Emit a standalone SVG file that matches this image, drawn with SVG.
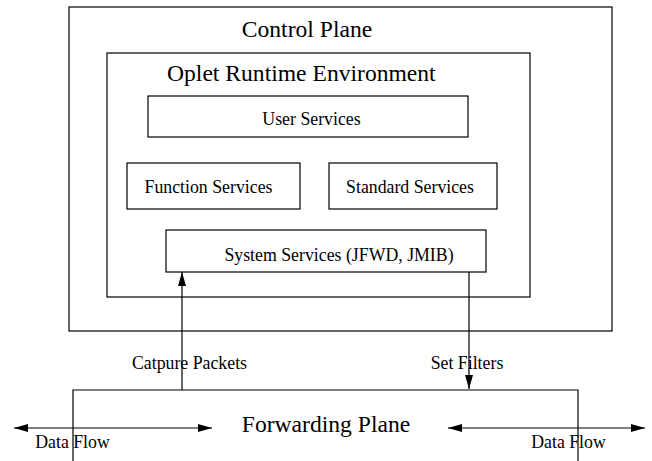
<svg xmlns="http://www.w3.org/2000/svg" width="652" height="461" viewBox="0 0 652 461">
<defs>
<marker id="ah" markerWidth="14" markerHeight="8" refX="14" refY="4" orient="auto-start-reverse" markerUnits="userSpaceOnUse">
<path d="M0,0 L14,4 L0,8 z" fill="#000"/>
</marker>
</defs>
<style>
.box{fill:none;stroke:#000;stroke-width:1.2}
.ln{fill:none;stroke:#000;stroke-width:1.2}
text{font-family:"Liberation Serif","Times New Roman",serif;fill:#000}
.big{font-size:23.6px}
.sm{font-size:17.8px}
</style>
<rect width="652" height="461" fill="#fff"/>
<g id="control-plane">
<rect class="box" x="69" y="7" width="543" height="324"/>
<text class="big" x="307" y="37" text-anchor="middle">Control Plane</text>
</g>
<g id="oplet-runtime">
<rect class="box" x="107" y="53" width="423" height="244"/>
<text class="big" x="167" y="81">Oplet Runtime Environment</text>
</g>
<g id="user-services">
<rect class="box" x="148" y="96" width="320" height="41"/>
<text class="sm" x="311.5" y="124.5" text-anchor="middle">User Services</text>
</g>
<g id="function-services">
<rect class="box" x="127" y="163" width="173" height="46"/>
<text class="sm" x="208.5" y="193" text-anchor="middle">Function Services</text>
</g>
<g id="standard-services">
<rect class="box" x="329" y="163" width="168" height="46"/>
<text class="sm" x="410" y="193" text-anchor="middle">Standard Services</text>
</g>
<g id="system-services">
<rect class="box" x="166" y="230" width="320" height="42"/>
<text class="sm" x="339" y="261" text-anchor="middle">System Services (JFWD, JMIB)</text>
</g>
<g id="forwarding-plane">
<path class="ln" d="M73,461 V390 H578 V461"/>
<text class="big" x="326" y="432" text-anchor="middle">Forwarding Plane</text>
</g>
<g id="connectors">
<line class="ln" x1="182" y1="390" x2="182" y2="272" marker-end="url(#ah)"/>
<line class="ln" x1="469" y1="272" x2="469" y2="389" marker-end="url(#ah)"/>
<line class="ln" x1="14" y1="428" x2="212" y2="428" marker-start="url(#ah)" marker-end="url(#ah)"/>
<line class="ln" x1="448" y1="428" x2="645" y2="428" marker-start="url(#ah)" marker-end="url(#ah)"/>
<text class="sm" x="189.5" y="369" text-anchor="middle">Catpure Packets</text>
<text class="sm" x="467" y="369" text-anchor="middle">Set Filters</text>
<text class="sm" x="72.5" y="448" text-anchor="middle">Data Flow</text>
<text class="sm" x="568.5" y="448" text-anchor="middle">Data Flow</text>
</g>
</svg>
